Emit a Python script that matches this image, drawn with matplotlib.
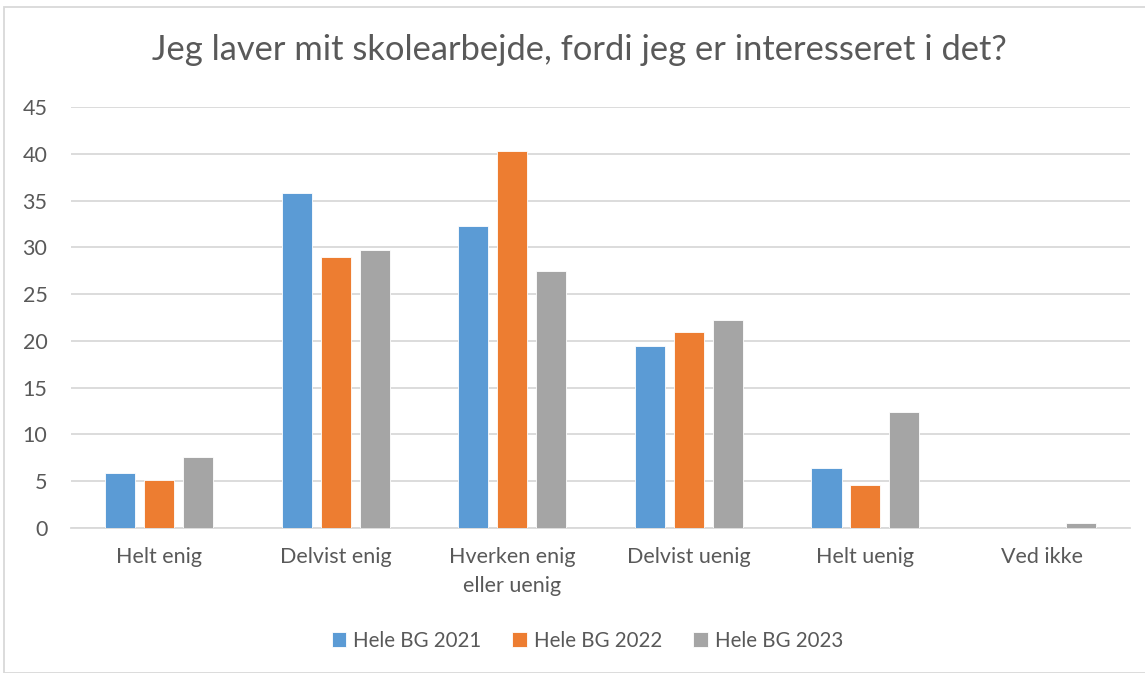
import matplotlib
matplotlib.use("Agg")
import matplotlib.pyplot as plt
import numpy as np
from matplotlib.patches import Rectangle

categories = ["Helt enig", "Delvist enig", "Hverken enig\neller uenig", "Delvist uenig", "Helt uenig", "Ved ikke"]
series_names = ["Hele BG 2021", "Hele BG 2022", "Hele BG 2023"]
bg2021 = [5.9, 35.8, 32.3, 19.4, 6.45, 0]
bg2022 = [5.1, 29.0, 40.3, 21.0, 4.56, 0]
bg2023 = [7.6, 29.7, 27.5, 22.2, 12.4, 0.5]
yticks = [0, 5, 10, 15, 20, 25, 30, 35, 40, 45]

colors = ["#5B9BD5", "#ED7D31", "#A5A5A5"]
plt.rcParams['font.family'] = ['Lato', 'DejaVu Sans']

fig = plt.figure(figsize=(11.45, 6.73), dpi=100)
ax = fig.add_axes([0.062, 0.2155, 0.925, 0.6255])

x = np.arange(len(categories))
w = 0.17
step = 0.22
for i, (vals, name) in enumerate(zip([bg2021, bg2022, bg2023], series_names)):
    ax.bar(x + (i - 1) * step, vals, width=w, color=colors[i], label=name,
           edgecolor="white", linewidth=0.6, zorder=3)

ax.set_xlim(-0.5, len(categories) - 0.5)
ax.set_ylim(0, 45)
ax.set_yticks(yticks)
ax.set_yticklabels([str(t) for t in yticks], fontsize=15.5, color="#595959")
ax.set_xticks(x)
ax.set_xticklabels(categories, fontsize=15.5, color="#595959", linespacing=1.55)
ax.tick_params(axis='both', length=0)
ax.tick_params(axis='y', pad=17)
ax.tick_params(axis='x', pad=14)
ax.yaxis.grid(True, color="#D9D9D9", linewidth=1.3, zorder=0)
ax.set_axisbelow(True)
for s in ["top", "right", "left"]:
    ax.spines[s].set_visible(False)
ax.spines["bottom"].set_color("#D9D9D9")
ax.spines["bottom"].set_linewidth(1.3)

fig.text(0.506, 0.926, "Jeg laver mit skolearbejde, fordi jeg er interesseret i det?",
         ha="center", va="center", fontsize=24.8, color="#595959")

leg = fig.legend(loc="center", bbox_to_anchor=(0.513, 0.048), ncol=3, frameon=False,
                 fontsize=14.8, handlelength=0.7, handleheight=0.7, handletextpad=0.35,
                 columnspacing=1.5, labelcolor="#595959")

fig.patches.append(Rectangle((4 / 1145, 0), 1.0, 1 - 7 / 673, transform=fig.transFigure,
                             fill=False, edgecolor="#D9D9D9", linewidth=1.3))

fig.savefig("out.png", dpi=100)
